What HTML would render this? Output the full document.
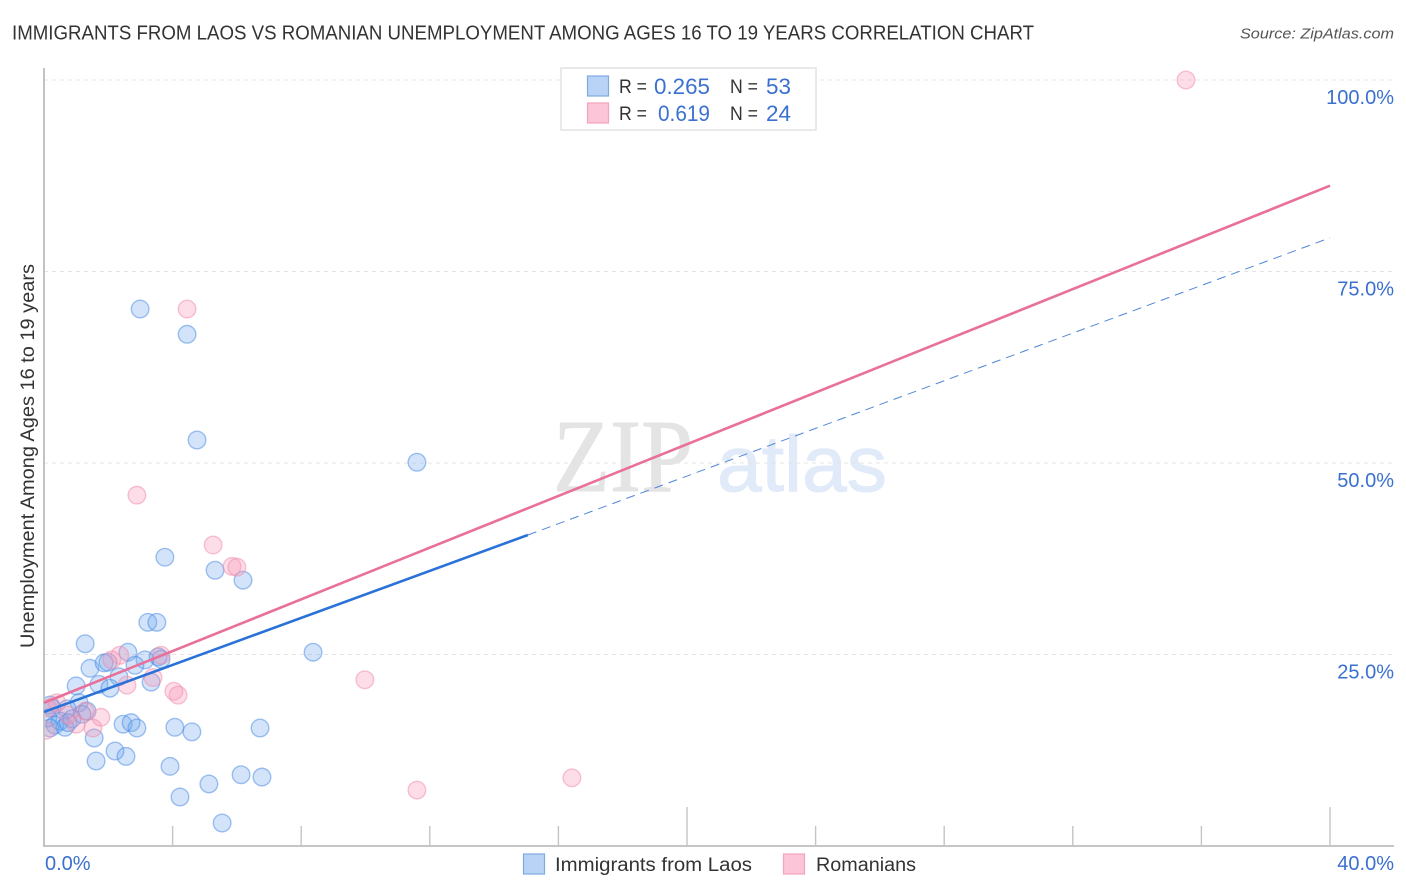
<!DOCTYPE html>
<html lang="en">
<head>
<meta charset="utf-8">
<title>Immigrants from Laos vs Romanian Unemployment Correlation Chart</title>
<style>
html,body{margin:0;padding:0;background:#fff;width:1406px;height:892px;overflow:hidden}
svg{display:block}
text{font-family:"Liberation Sans",sans-serif}
</style>
</head>
<body>
<svg id="chart" width="1406" height="892" viewBox="0 0 1406 892" xmlns="http://www.w3.org/2000/svg">
  <defs><clipPath id="plot-clip"><rect x="45" y="68" width="1349" height="778"/></clipPath></defs>
  <text x="12" y="39.5" font-size="20" fill="#333" textLength="1022" lengthAdjust="spacingAndGlyphs">IMMIGRANTS FROM LAOS VS ROMANIAN UNEMPLOYMENT AMONG AGES 16 TO 19 YEARS CORRELATION CHART</text>
  <text x="1394" y="38.5" font-size="15" font-style="italic" fill="#555" text-anchor="end" textLength="154" lengthAdjust="spacingAndGlyphs">Source: ZipAtlas.com</text>

  <g>
    <text x="553" y="491" font-size="104" fill="#e4e4e4" stroke="#e4e4e4" stroke-width="1" style="font-family:'Liberation Serif',serif" textLength="140" lengthAdjust="spacingAndGlyphs">ZIP</text>
    <text x="717" y="491" font-size="79" fill="#e0eaf8" stroke="#e0eaf8" stroke-width="1" textLength="170" lengthAdjust="spacingAndGlyphs">atlas</text>
  </g>

  <g id="grid"></g>
  <g id="axes"></g>
  <g id="points" clip-path="url(#plot-clip)"></g>
  <g id="lines"></g>
  <g id="labels"></g>

  <text transform="translate(34 456) rotate(-90)" font-size="19" fill="#333" text-anchor="middle" textLength="384" lengthAdjust="spacingAndGlyphs">Unemployment Among Ages 16 to 19 years</text>

  <g>
    <rect x="561" y="68" width="255" height="62" fill="#fff" stroke="#e2e2e2" stroke-width="1.5"/>
    <rect x="587.5" y="76" width="21" height="20" fill="#b9d3f6" stroke="#7fa9e2" stroke-width="1.2"/>
    <rect x="587.5" y="103" width="21" height="20" fill="#fcc6d8" stroke="#f3a3bc" stroke-width="1.2"/>
    <text x="619" y="93" font-size="19" fill="#333" textLength="28" lengthAdjust="spacingAndGlyphs">R =</text>
    <text x="654" y="94" font-size="22" fill="#3a70cf" textLength="56" lengthAdjust="spacingAndGlyphs">0.265</text>
    <text x="730" y="93" font-size="19" fill="#333" textLength="28" lengthAdjust="spacingAndGlyphs">N =</text>
    <text x="766" y="94" font-size="22" fill="#3a70cf" textLength="25" lengthAdjust="spacingAndGlyphs">53</text>
    <text x="619" y="120" font-size="19" fill="#333" textLength="28" lengthAdjust="spacingAndGlyphs">R =</text>
    <text x="658" y="121" font-size="22" fill="#3a70cf" textLength="52" lengthAdjust="spacingAndGlyphs">0.619</text>
    <text x="730" y="120" font-size="19" fill="#333" textLength="28" lengthAdjust="spacingAndGlyphs">N =</text>
    <text x="766" y="121" font-size="22" fill="#3a70cf" textLength="25" lengthAdjust="spacingAndGlyphs">24</text>
  </g>

  <g>
    <g>
      <rect x="523.5" y="854" width="21" height="20" fill="#b9d3f6" stroke="#7fa9e2" stroke-width="1.2"/>
      <text x="555" y="871" font-size="19" fill="#333" textLength="197" lengthAdjust="spacingAndGlyphs">Immigrants from Laos</text>
    </g>
    <g>
      <rect x="783.5" y="854" width="21" height="20" fill="#fcc6d8" stroke="#f3a3bc" stroke-width="1.2"/>
      <text x="816" y="871" font-size="19" fill="#333" textLength="100" lengthAdjust="spacingAndGlyphs">Romanians</text>
    </g>
  </g>
</svg>
<script>
const laosX = [2.99,4.45,4.76,11.60,3.76,5.32,6.19,3.23,3.51,1.28,8.37,2.61,1.43,1.87,1.99,3.14,2.83,3.55,3.64,2.33,1.71,2.05,3.33,1.00,1.09,0.19,0.25,1.34,1.18,0.72,2.46,2.71,2.89,4.07,4.60,6.72,1.56,2.21,2.55,1.62,3.92,6.13,6.78,5.13,4.23,5.54,0.12,0.34,0.50,0.65,0.87,0.75,0.19];
const laosY = [70.1,66.8,53.0,50.1,37.7,36.0,34.7,29.2,29.2,26.4,25.3,25.3,23.2,23.9,24.0,24.3,23.6,24.7,24.4,22.1,21.1,20.6,21.4,20.9,18.7,18.4,18.0,17.6,17.2,17.9,15.9,16.1,15.4,15.5,14.9,15.4,14.1,12.4,11.7,11.1,10.4,9.3,9.0,8.1,6.4,3.0,16.7,15.8,16.3,15.5,16.6,16.1,15.4];
const romaniansX = [35.52,4.45,2.89,5.26,5.85,6.00,9.98,11.60,16.42,4.04,4.17,3.39,2.58,2.36,2.11,3.64,1.77,1.52,0.40,1.28,0.12,1.00,0.75,0.06];
const romaniansY = [100.0,70.1,45.8,39.3,36.5,36.4,21.7,7.3,8.9,20.2,19.7,22.0,21.0,24.9,24.3,24.9,16.8,15.4,18.7,17.6,18.0,15.9,17.1,15.1];
const laosTrendX = [0,15.05];
const laosTrendY = [17.5,40.6];
const laosDashX = [15.05,40];
const laosDashY = [40.6,79.4];
const romaniansTrendX = [0,40];
const romaniansTrendY = [18.7,86.2];
const yTicks = [25,50,75,100];
const yTickLabels = ["25.0%","50.0%","75.0%","100.0%"];
const xTicks = [4,8,12,16,20,24,28,32,36,40];
const xTallTicks = [20,40];
const xEndLabels = ["0.0%","40.0%"];

const NS = 'http://www.w3.org/2000/svg';
const sx = v => 44 + v * 32.15;
const sy = v => 846 - v * 7.66;
function make(tag, attrs, parent) {
  const el = document.createElementNS(NS, tag);
  for (const k in attrs) el.setAttribute(k, attrs[k]);
  parent.appendChild(el);
  return el;
}
const grid = document.getElementById('grid');
const axes = document.getElementById('axes');
const points = document.getElementById('points');
const lines = document.getElementById('lines');
const labels = document.getElementById('labels');

yTicks.forEach((t, i) => {
  const g = make('line', {x1:44, x2:1394, y1:sy(t), y2:sy(t), stroke:'#e4e4e4', 'stroke-width':1, 'stroke-dasharray':'4 4'}, grid);
  
  
  const l = make('text', {x:1394, y:sy(t) + 24, 'font-size':20, fill:'#3a70cf', 'text-anchor':'end'}, labels);
  l.textContent = yTickLabels[i];
  
  
});

const yAxis = make('line', {x1:44, x2:44, y1:68, y2:846.5, stroke:'#b4b4b4', 'stroke-width':1.6}, axes);


const xAxis = make('line', {x1:43, x2:1394, y1:846, y2:846, stroke:'#b4b4b4', 'stroke-width':1.6}, axes);


xTicks.forEach(t => {
  const top = xTallTicks.includes(t) ? 807 : 826;
  const k = make('line', {x1:sx(t), x2:sx(t), y1:top, y2:846, stroke:'#c4c4c4', 'stroke-width':1.4}, axes);
  
  
});

const xLeft = make('text', {x:45, y:870, 'font-size':20, fill:'#3a70cf'}, labels);
xLeft.textContent = xEndLabels[0];


const xRight = make('text', {x:1394, y:870, 'font-size':20, fill:'#3a70cf', 'text-anchor':'end'}, labels);
xRight.textContent = xEndLabels[1];



laosX.forEach((x, i) => {
  const c = make('circle', {cx:sx(x), cy:sy(laosY[i]), r:8.8, fill:'rgba(110,165,240,0.3)', stroke:'rgba(70,135,225,0.5)', 'stroke-width':1.4}, points);
  
  
});
romaniansX.forEach((x, i) => {
  const c = make('circle', {cx:sx(x), cy:sy(romaniansY[i]), r:8.8, fill:'rgba(250,150,180,0.32)', stroke:'rgba(240,140,170,0.5)', 'stroke-width':1.4}, points);
  
  
});

const dash = make('line', {x1:sx(laosDashX[0]), y1:sy(laosDashY[0]), x2:sx(laosDashX[1]), y2:sy(laosDashY[1]), stroke:'#4f86d8', 'stroke-width':1, 'stroke-dasharray':'9 6'}, lines);


const blue = make('line', {x1:sx(laosTrendX[0]), y1:sy(laosTrendY[0]), x2:sx(laosTrendX[1]), y2:sy(laosTrendY[1]), stroke:'#2a72d8', 'stroke-width':2.6}, lines);


const pink = make('line', {x1:sx(romaniansTrendX[0]), y1:sy(romaniansTrendY[0]), x2:sx(romaniansTrendX[1]), y2:sy(romaniansTrendY[1]), stroke:'#e8709a', 'stroke-width':2.6}, lines);


</script>
</body>
</html>
